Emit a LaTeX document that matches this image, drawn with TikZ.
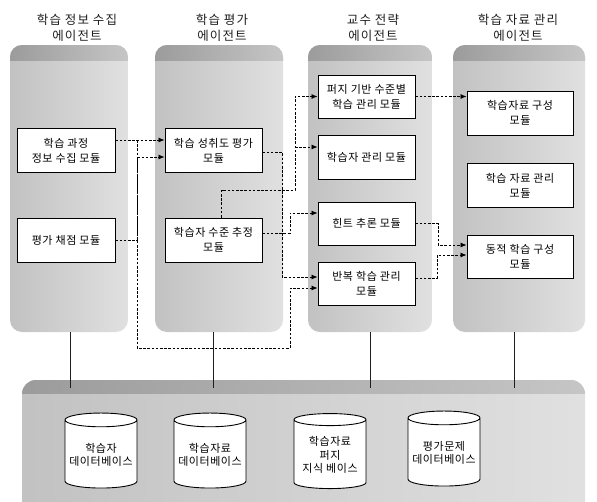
\documentclass[tikz,border=0pt]{standalone}
\usepackage{fontspec}
\setmainfont{Noto Sans CJK KR}
\newfontfamily\modfont[LetterSpace=5]{Noto Sans CJK KR}
\newfontfamily\titlefont[LetterSpace=9]{Noto Sans CJK KR}
\usetikzlibrary{arrows.meta,fit,shapes.geometric}
\definecolor{inkgray}{RGB}{30,30,30}

\begin{document}
\begin{tikzpicture}[x=1pt,y=-1pt,>=Latex,
  font=\modfont\fontsize{11}{15}\selectfont,
  titlelab/.style={align=center,text=inkgray,font=\titlefont\fontsize{12.5}{16}\selectfont},
  modbox/.style={draw,line width=0.9pt,fill=white,align=center,inner sep=2pt,minimum height=44pt},
  dbcyl/.style={cylinder,shape border rotate=90,aspect=0.21,draw,line width=0.9pt,fill=white,
    minimum width=72pt,minimum height=75pt,align=center,inner sep=1pt,
    font=\modfont\fontsize{11}{13.5}\selectfont},
  flow/.style={->,dash pattern=on 2.6pt off 1.6pt,line width=0.8pt,>={Latex[length=6pt,width=5pt]}},
  bus/.style={line width=0.7pt,inkgray}]
  \useasboundingbox (0,0) rectangle (597,501);

  % agent panels
  \foreach \nm/\xa/\xb in {pa/10/128,pb/155/283,pc/308/432,pd/453/585}{
    \begin{scope}
      \clip[rounded corners=12pt] (\xa,45) rectangle (\xb,332);
      \shade[left color=gray!48,right color=gray!24] (\xa,45) rectangle (\xb,332);
      \shade[left color=gray!78,right color=gray!45] (\xa,45) rectangle (\xb,60);
    \end{scope}
    \node[fit={(\xa,45) (\xb,332)},inner sep=0] (\nm) {};
  }

  % knowledge base panel
  \begin{scope}
    \clip[rounded corners=14pt] (22,380) rectangle (585,520);
    \shade[left color=gray!48,right color=gray!24] (22,380) rectangle (585,501);
    \shade[left color=gray!78,right color=gray!45] (22,380) rectangle (585,393);
  \end{scope}
  \node[fit={(22,380) (585,501)},inner sep=0] (base) {};

  \node[titlelab] (ta) at (77,28) {학습 정보 수집\\에이전트};
  \node[titlelab] (tb) at (222,28) {학습 평가\\에이전트};
  \node[titlelab] (tc) at (373,28) {교수 전략\\에이전트};
  \node[titlelab] (td) at (518,28) {학습 자료 관리\\에이전트};

  \node[modbox,minimum width=98pt] (m11) at (66,150.5) {학습 과정\\정보 수집 모듈};
  \node[modbox,minimum width=98pt] (m12) at (66,240) {평가 채점 모듈};
  \node[modbox,minimum width=97pt] (m21) at (213.5,150.5) {학습 성취도 평가\\모듈};
  \node[modbox,minimum width=97pt] (m22) at (213.5,240) {학습자 수준 추정\\모듈};
  \node[modbox,minimum width=97pt,minimum height=43pt] (m31) at (366.5,96.5) {퍼지 기반 수준별\\학습 관리 모듈};
  \node[modbox,minimum width=97pt] (m32) at (366.5,157.5) {학습자 관리 모듈};
  \node[modbox,minimum width=97pt,minimum height=43pt] (m33) at (366.5,223.5) {힌트 추론 모듈};
  \node[modbox,minimum width=97pt,minimum height=43pt] (m34) at (366.5,283.5) {반복 학습 관리\\모듈};
  \node[modbox,minimum width=106pt] (m41) at (520,113) {학습자료 구성\\모듈};
  \node[modbox,minimum width=106pt] (m42) at (520,185.5) {학습 자료 관리\\모듈};
  \node[modbox,minimum width=106pt,minimum height=43pt] (m43) at (520,256.5) {동적 학습 구성\\모듈};

  \node[dbcyl] (db1) at (101,455) {학습자\\데이터베이스};
  \node[dbcyl] (db2) at (210,455) {학습자료\\데이터베이스};
  \node[dbcyl] (db3) at (330,455) {학습자료\\퍼지\\지식 베이스};
  \node[dbcyl] (db4) at (444,453) {평가문제\\데이터베이스};

  \foreach \p/\dx in {pa/1,pb/-6,pc/0,pd/-5}
    \draw[bus] ([xshift=\dx pt]\p.south) -- ++(0,56);

  % message routes
  \coordinate (k0) at (137,140);
  \coordinate (k1) at (137,157);
  \coordinate (k2) at (290,348);
  \coordinate (k3) at (290,288);
  \coordinate (k4) at (282,277);
  \coordinate (k5) at (295,190);
  \coordinate (k6) at (295,147);
  \coordinate (k7) at (290,213);
  \coordinate (k8) at (438,245);
  \coordinate (k9) at (437,255);

  \draw[flow] (m11.east |- k0) -- (k0 -| m21.west);
  \draw[flow] (m12.east) -| (k1) -- (k1 -| m21.west);
  \draw[flow] (k0) |- (k2) -- (k3) -- (k3 -| m34.west);
  \draw[flow] ([yshift=-1.5pt]m21.east) -| (k4) -- (k4 -| m34.west);
  \draw[flow] ([xshift=8pt]m22.north) |- (k5) |- (m31.west);
  \draw[flow] (k6) -- (k6 -| m32.west);
  \draw[flow] ([yshift=7pt]m22.east) -| (k7) -- (k7 -| m33.west);
  \draw[flow] (m31.east) -- (m31.east -| m41.west);
  \draw[flow] (m33.east) -| (k8) -- (k8 -| m43.west);
  \draw[flow] ([yshift=5.5pt]m34.east) -| (k9) -- (k9 -| m43.west);
\end{tikzpicture}
\end{document}
